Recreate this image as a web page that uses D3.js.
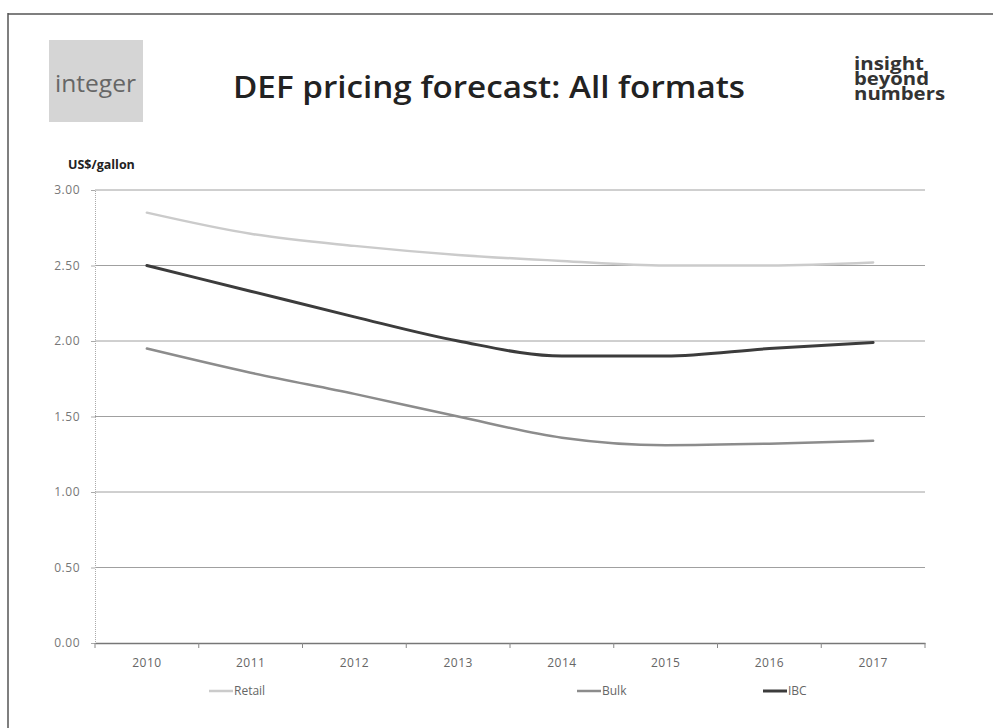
<!DOCTYPE html>
<html>
<head>
<meta charset="utf-8">
<script src="https://cdn.jsdelivr.net/npm/d3@7"></script>
<style>
  html, body { margin: 0; padding: 0; background: #fff; }
  svg { display: block; font-family: "Open Sans", "DejaVu Sans", sans-serif; }
</style>
</head>
<body>
<svg id="chart" width="993" height="728"></svg>
<script>
// Forecast years and price series (US$/gallon)
const years = ["2010", "2011", "2012", "2013", "2014", "2015", "2016", "2017"];
const retail = [2.85, 2.71, 2.63, 2.57, 2.53, 2.50, 2.50, 2.52];
const bulk   = [1.95, 1.79, 1.65, 1.50, 1.36, 1.31, 1.32, 1.34];
const ibc    = [2.50, 2.33, 2.16, 2.00, 1.90, 1.90, 1.95, 1.99];
const yTicks = [0, 0.5, 1, 1.5, 2, 2.5, 3];
const seriesNames = ["Retail", "Bulk", "IBC"];
const seriesColors = ["#cbcbcb", "#8c8c8c", "#3c3c3c"];

const svg = d3.select("#chart");
const fontStack = "\"Open Sans\", \"DejaVu Sans\", sans-serif";

// Page frame: top rule and left edge
svg.append("line").attr("x1", 8).attr("x2", 993).attr("y1", 14).attr("y2", 14)
  .attr("stroke", "#555").attr("stroke-width", 1.5);
svg.append("line").attr("x1", 8).attr("x2", 8).attr("y1", 13).attr("y2", 728)
  .attr("stroke", "#555").attr("stroke-width", 1.5);

// Header: logo block, title, tagline
svg.append("rect").attr("x", 49).attr("y", 40).attr("width", 94).attr("height", 82)
  .attr("fill", "#d5d5d5");
svg.append("text").attr("x", 55).attr("y", 92)
  .attr("font-size", 23).attr("fill", "#666")
  .attr("textLength", 81).attr("lengthAdjust", "spacingAndGlyphs").text("integer");
svg.append("text").attr("x", 233).attr("y", 98)
  .attr("font-size", 31).attr("font-weight", 600).attr("fill", "#222")
  .attr("textLength", 512).attr("lengthAdjust", "spacingAndGlyphs")
  .text("DEF pricing forecast: All formats");
const tagline = svg.append("text").attr("x", 854).attr("y", 70)
  .attr("font-size", 17).attr("font-weight", 700).attr("fill", "#333");
[["insight", 70], ["beyond", 75], ["numbers", 91]].forEach(([w, len], i) => {
  tagline.append("tspan").attr("x", 854).attr("dy", i === 0 ? 0 : 15)
    .attr("textLength", len).attr("lengthAdjust", "spacingAndGlyphs").text(w);
});

// Plot area
const margin = { left: 95, right: 925, top: 190, bottom: 643 };
const x = d3.scaleBand().domain(years).range([margin.left, margin.right]);
const y = d3.scaleLinear().domain([0, 3]).range([margin.bottom, margin.top]);

// Unit label
svg.append("text").attr("x", 68).attr("y", 169)
  .attr("font-size", 12.5).attr("font-weight", 700).attr("fill", "#222").text("US$/gallon");

// Horizontal gridlines
svg.append("g").selectAll("line").data(yTicks.filter(d => d > 0)).join("line")
  .attr("x1", margin.left).attr("x2", margin.right)
  .attr("y1", d => y(d)).attr("y2", d => y(d))
  .attr("stroke", "#a0a0a0").attr("stroke-width", 1);

// Y axis
const yAxis = svg.append("g").attr("transform", `translate(${margin.left},0)`)
  .call(d3.axisLeft(y).tickValues(yTicks).tickFormat(d3.format(".2f")).tickSize(4).tickPadding(11));
yAxis.select(".domain").attr("stroke", "#aaa").attr("stroke-dasharray", "1,1");
yAxis.selectAll(".tick line").attr("stroke", "#aaa");
yAxis.selectAll("text").attr("font-size", 12).attr("fill", "#777")
  .attr("letter-spacing", "0.5px").attr("font-family", fontStack);

// X axis with tick marks at category boundaries
const xAxis = svg.append("g").attr("transform", `translate(0,${margin.bottom})`)
  .call(d3.axisBottom(x).tickSize(0).tickPadding(15));
xAxis.select(".domain").attr("stroke", "#777").attr("stroke-width", 1.5);
xAxis.selectAll("text").attr("font-size", 12).attr("fill", "#666")
  .attr("letter-spacing", "0.5px").attr("font-family", fontStack);
xAxis.selectAll("line.bound").data(d3.range(years.length + 1)).join("line")
  .attr("class", "bound")
  .attr("x1", i => margin.left + i * x.step()).attr("x2", i => margin.left + i * x.step())
  .attr("y1", 0).attr("y2", 5).attr("stroke", "#888");

// Series lines
const line = d3.line()
  .x((d, i) => x(years[i]) + x.bandwidth() / 2)
  .y(d => y(d))
  .curve(d3.curveMonotoneX);

[retail, bulk, ibc].forEach((vals, k) => {
  svg.append("path").datum(vals)
    .attr("fill", "none")
    .attr("stroke", seriesColors[k])
    .attr("stroke-width", k === 2 ? 3 : 2.5)
    .attr("stroke-linecap", "round")
    .attr("d", line);
});

// Legend
const legendX = [209, 577, 763];
seriesNames.forEach((name, k) => {
  const g = svg.append("g").attr("transform", `translate(${legendX[k]},691)`);
  g.append("line").attr("x1", 0).attr("x2", 24).attr("y1", 0).attr("y2", 0)
    .attr("stroke", seriesColors[k]).attr("stroke-width", k === 2 ? 3 : 2.5);
  g.append("text").attr("x", 25).attr("y", 4).attr("font-size", 12).attr("fill", "#666").text(name);
});
</script>
</body>
</html>
